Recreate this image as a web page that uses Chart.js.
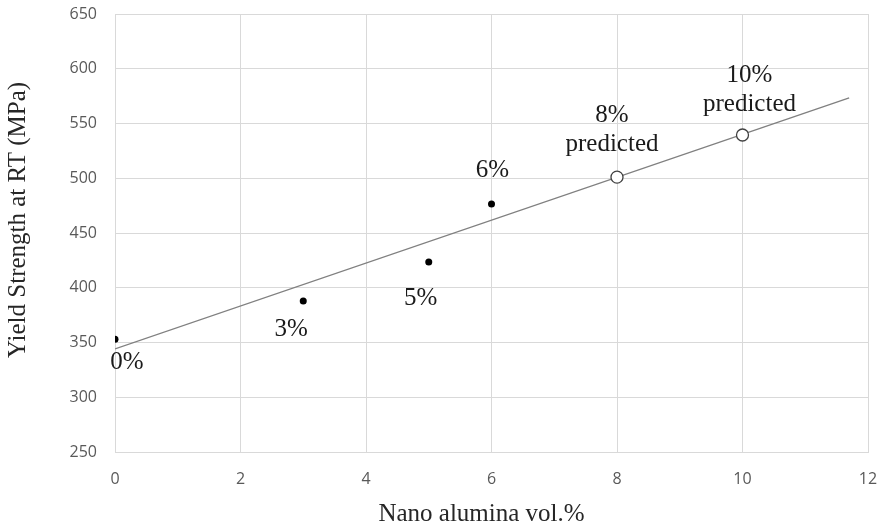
<!DOCTYPE html>
<html>
<head>
<meta charset="utf-8">
<script src="https://cdn.jsdelivr.net/npm/chart.js@4/dist/chart.umd.min.js"></script>
<style>
  html, body { margin: 0; padding: 0; background: #ffffff; }
  #wrap { width: 884px; height: 529px; }
</style>
</head>
<body>
<div id="wrap"><canvas id="chart" width="884" height="529"></canvas></div>
<script>
// Measured yield strength (MPa) at room temperature vs. nano alumina content (vol.%)
const measuredVol = [0, 3, 5, 6];
const measuredYS = [353, 388, 423.5, 476.5];
const measuredLabels = [["0%"], ["3%"], ["5%"], ["6%"]];

// Values predicted from the linear trend
const predictedVol = [8, 10];
const predictedYS = [501, 539.5];
const predictedLabels = [["8%", "predicted"], ["10%", "predicted"]];

// Linear trendline end points
const trendVol = [0, 11.7];
const trendYS = [344.2, 573.5];

// Axis ranges and ticks
const xTicks = [0, 2, 4, 6, 8, 10, 12];
const yTicks = [250, 300, 350, 400, 450, 500, 550, 600, 650];

const xTitle = "Nano alumina vol.%";
const yTitle = "Yield Strength at RT (MPa)";

const toPoints = (xs, ys) => xs.map((x, i) => ({ x: x, y: ys[i] }));

// Label placement relative to each point (pixel offsets of the first line)
const labelOffsets = {
  measured: [[12, 23], [-12, 29], [-8, 36], [1, -34]],
  predicted: [[-5, -62], [7, -60]]
};

const serif = "'Liberation Serif', 'Times New Roman', serif";
const sans = "'Open Sans', 'DejaVu Sans', sans-serif";

const pointLabels = {
  id: 'pointLabels',
  afterDatasetsDraw(chart) {
    const ctx = chart.ctx;
    ctx.save();
    ctx.font = "25px " + serif;
    ctx.fillStyle = "#1a1a1a";
    ctx.textAlign = "center";
    ctx.textBaseline = "middle";
    const groups = [
      { idx: 1, texts: measuredLabels, offs: labelOffsets.measured },
      { idx: 2, texts: predictedLabels, offs: labelOffsets.predicted }
    ];
    groups.forEach(g => {
      const meta = chart.getDatasetMeta(g.idx);
      meta.data.forEach((el, i) => {
        const [dx, dy] = g.offs[i];
        g.texts[i].forEach((line, j) => {
          ctx.fillText(line, el.x + dx, el.y + dy + j * 29);
        });
      });
    });
    ctx.restore();
  }
};

// Axis titles, drawn in the margins beside the plot area
const axisTitles = {
  id: 'axisTitles',
  afterDraw(chart) {
    const ctx = chart.ctx;
    const a = chart.chartArea;
    ctx.save();
    ctx.font = "25px " + serif;
    ctx.fillStyle = "#262626";
    ctx.textAlign = "center";
    ctx.textBaseline = "middle";
    ctx.fillText(xTitle, (a.left + a.right) / 2 - 10, a.bottom + 62);
    ctx.translate(18, (a.top + a.bottom) / 2 - 13);
    ctx.rotate(-Math.PI / 2);
    ctx.fillText(yTitle, 0, 0);
    ctx.restore();
  }
};

new Chart(document.getElementById('chart'), {
  type: 'scatter',
  data: {
    datasets: [
      {
        type: 'line',
        label: 'Trend',
        data: toPoints(trendVol, trendYS),
        borderColor: '#808080',
        borderWidth: 1.3,
        pointRadius: 0,
        fill: false,
        order: 3
      },
      {
        label: 'Measured',
        data: toPoints(measuredVol, measuredYS),
        backgroundColor: '#000000',
        borderColor: '#000000',
        pointRadius: 3.5,
        borderWidth: 0,
        order: 1
      },
      {
        label: 'Predicted',
        data: toPoints(predictedVol, predictedYS),
        backgroundColor: '#ffffff',
        borderColor: '#404040',
        pointRadius: 6,
        borderWidth: 1.3,
        order: 2
      }
    ]
  },
  options: {
    responsive: false,
    animation: false,
    layout: { padding: { top: 14, right: 16, left: 0, bottom: 0 } },
    plugins: {
      legend: { display: false },
      tooltip: { enabled: false }
    },
    scales: {
      x: {
        type: 'linear',
        min: xTicks[0],
        max: xTicks[xTicks.length - 1],
        afterBuildTicks: s => { s.ticks = xTicks.map(v => ({ value: v })); },
        afterFit: s => { s.height = 77; s.paddingLeft = 0; s.paddingRight = 0; },
        grid: { color: '#d9d9d9', lineWidth: 1, drawTicks: false },
        border: { color: '#d9d9d9' },
        ticks: { padding: 18, color: '#595959', font: { family: sans, size: 16 } }
      },
      y: {
        type: 'linear',
        min: yTicks[0],
        max: yTicks[yTicks.length - 1],
        afterBuildTicks: s => { s.ticks = yTicks.map(v => ({ value: v })); },
        afterFit: s => { s.width = 115; s.paddingTop = 0; s.paddingBottom = 0; },
        grid: { color: '#d9d9d9', lineWidth: 1, drawTicks: false },
        border: { color: '#d9d9d9' },
        ticks: { padding: 18, color: '#595959', font: { family: sans, size: 16 } }
      }
    }
  },
  plugins: [pointLabels, axisTitles]
});
</script>
</body>
</html>
